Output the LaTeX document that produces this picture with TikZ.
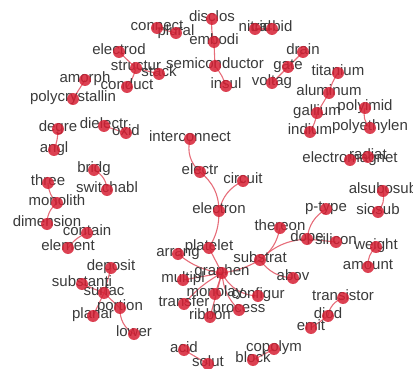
\documentclass[tikz,border=0pt]{standalone}
\usepackage{fontspec}
\setmainfont{Liberation Sans}
\usepackage{xcolor}
\definecolor{dotred}{RGB}{214,32,52}
\definecolor{linkred}{RGB}{224,72,88}
\definecolor{wordgray}{RGB}{58,58,58}
\pgfdeclarelayer{edges}
\pgfdeclarelayer{dots}
\pgfsetlayers{edges,main,dots}

\begin{document}
\begin{tikzpicture}[x=1pt, y=-1pt, font=\fontsize{15}{18}\selectfont,
    word/.style={text=wordgray, inner sep=0pt, text height=0.72em, text depth=0.2em},
    dot/.style={fill=dotred, fill opacity=0.85},
    link/.style={draw=linkred, line width=1.1pt, draw opacity=0.8}]
  \useasboundingbox (0,0) rectangle (413,369);
  % keyword nodes: name / x / y / word, each with its dot on top
  \foreach \n/\x/\y/\t in {
      connect/157/28/connect, plural/176/33/plural, disclos/212/19/disclos,
      embodi/214/42/embodi, semiconductor/215/66/semiconductor, insul/226/86/insul,
      nitrid/255/29/nitrid, carbid/272/29/carbid,
      electrod/119/52/electrod, structur/136/68/structur, stack/159/74/stack,
      conduct/127/87/conduct, amorph/85/80/amorph, polycrystallin/73/99/polycrystallin,
      degre/58/129/degre, angl/54/150/angl, dielectr/104/126/dielectr, oxid/126/133/oxid,
      bridg/94/170/bridg, switchabl/107/190/switchabl,
      three/48/183/three, monolith/57/203/monolith, dimension/47/224/dimension,
      contain/87/233/contain, element/68/248/element,
      deposit/111/268/deposit, substanti/82/284/substanti, surfac/104/293/surfac,
      planar/93/316/planar, portion/120/308/portion, lower/134/334/lower,
      interconnect/190/139/interconnect, electr/200/172/electr, circuit/243/181/circuit,
      electron/219/211/electron, platelet/209/248/platelet, arrang/178/254/arrang,
      graphen/222/273/graphen, multipl/183/280/multipl, monolay/215/294/monolay,
      configur/258/296/configur, transfer/184/304/transfer, ribbon/210/317/ribbon,
      process/239/310/process, substrat/260/260/substrat, abov/293/278/abov,
      thereon/280/228/thereon, ptype/326/209/p-type, dope/307/239/dope,
      silicon/336/242/silicon, weight/376/247/weight, amount/368/267/amount,
      transistor/343/298/transistor, diod/328/316/diod, emit/311/328/emit,
      acid/184/350/acid, solut/208/364/solut, block/253/360/block, copolym/274/349/copolym,
      drain/303/52/drain, gate/288/67/gate, voltag/272/83/voltag,
      titanium/338/73/titanium, aluminum/329/93/aluminum, gallium/317/113/gallium,
      indium/310/132/indium, polyimid/365/108/polyimid, polyethylen/370/128/polyethylen,
      electromagnet/350/160/electromagnet, radiat/368/157/radiat,
      alsubosub/383/191/alsubosub, siosub/378/212/siosub}{
    \node[word] (\n) at (\x,\y) {\t};
    \begin{pgfonlayer}{dots}
      \fill[dot] (\n.center) circle (6pt);
    \end{pgfonlayer}
  }
  % links between keywords: from / to / bend (negative bends the other way)
  \begin{pgfonlayer}{edges}
    \foreach \a/\b/\bend in {
        connect/plural/0, disclos/embodi/-10, embodi/semiconductor/0,
        semiconductor/insul/10, nitrid/carbid/0,
        electrod/structur/0, structur/conduct/10, structur/stack/0,
        amorph/polycrystallin/0, degre/angl/10, dielectr/oxid/0,
        bridg/switchabl/30, three/monolith/-20, monolith/dimension/-25,
        contain/element/-15,
        deposit/surfac/0, substanti/surfac/0, surfac/planar/0, surfac/portion/0,
        portion/lower/-30,
        drain/gate/0, gate/voltag/0,
        titanium/aluminum/-10, aluminum/gallium/0, gallium/indium/10,
        polyimid/polyethylen/-30, electromagnet/radiat/0, alsubosub/siosub/25,
        interconnect/electr/-30, electr/electron/25, circuit/electron/-25,
        electron/platelet/15, platelet/graphen/0, arrang/graphen/-15,
        multipl/graphen/0, monolay/graphen/0, transfer/graphen/10,
        ribbon/graphen/0, graphen/process/-20, graphen/configur/-30,
        graphen/substrat/-10, substrat/abov/-25, substrat/thereon/-20,
        substrat/dope/20, dope/ptype/25, dope/silicon/0,
        weight/amount/-25, transistor/diod/-30, diod/emit/0,
        acid/solut/0, block/copolym/0}
      \draw[link] (\a.center) to[bend left=\bend] (\b.center);
  \end{pgfonlayer}
\end{tikzpicture}
\end{document}
